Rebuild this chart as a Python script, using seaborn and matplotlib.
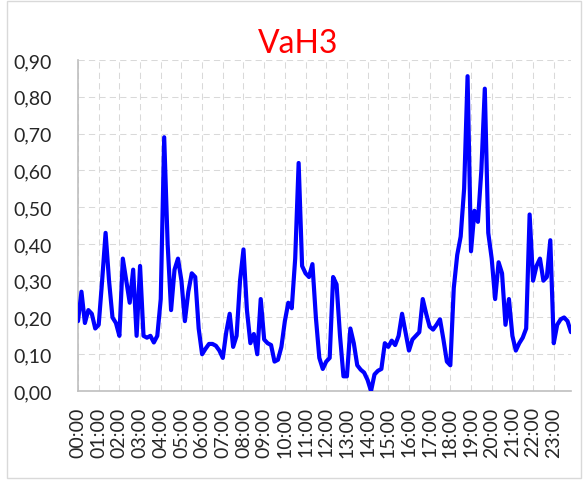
import numpy as np
import pandas as pd
import seaborn as sns
from matplotlib import pyplot as plt
from matplotlib.patches import Rectangle

# VaH3, 10-minute readings from 00:00 to 23:50
vah3 = [
    0.19, 0.27, 0.185, 0.22, 0.21, 0.17,          # 00:00
    0.18, 0.30, 0.43, 0.30, 0.20, 0.185,          # 01:00
    0.15, 0.36, 0.30, 0.24, 0.33, 0.15,           # 02:00
    0.34, 0.15, 0.145, 0.15, 0.132, 0.15,         # 03:00
    0.25, 0.69, 0.40, 0.22, 0.33, 0.36,           # 04:00
    0.30, 0.19, 0.27, 0.32, 0.31, 0.17,           # 05:00
    0.10, 0.115, 0.128, 0.128, 0.123, 0.11,       # 06:00
    0.09, 0.16, 0.21, 0.12, 0.15, 0.30,           # 07:00
    0.385, 0.22, 0.13, 0.155, 0.10, 0.25,         # 08:00
    0.14, 0.13, 0.125, 0.08, 0.085, 0.12,         # 09:00
    0.19, 0.24, 0.225, 0.36, 0.62, 0.34,          # 10:00
    0.32, 0.31, 0.345, 0.20, 0.09, 0.06,          # 11:00
    0.08, 0.09, 0.31, 0.29, 0.15, 0.04,           # 12:00
    0.04, 0.17, 0.13, 0.07, 0.058, 0.05,          # 13:00
    0.03, 0.0, 0.045, 0.055, 0.06, 0.13,          # 14:00
    0.12, 0.137, 0.125, 0.15, 0.21, 0.16,         # 15:00
    0.11, 0.14, 0.15, 0.16, 0.25, 0.21,           # 16:00
    0.175, 0.167, 0.18, 0.195, 0.14, 0.08,        # 17:00
    0.07, 0.28, 0.37, 0.42, 0.55, 0.856,          # 18:00
    0.38, 0.49, 0.46, 0.60, 0.822, 0.43,          # 19:00
    0.36, 0.25, 0.35, 0.32, 0.18, 0.25,           # 20:00
    0.15, 0.11, 0.13, 0.145, 0.17, 0.48,          # 21:00
    0.30, 0.34, 0.36, 0.30, 0.31, 0.41,           # 22:00
    0.13, 0.18, 0.195, 0.20, 0.19, 0.16,          # 23:00
]
hour_labels = [f'{h:02d}:00' for h in range(24)]
y_ticks = [0.0, 0.1, 0.2, 0.3, 0.4, 0.5, 0.6, 0.7, 0.8, 0.9]

df = pd.DataFrame({'hour': np.arange(len(vah3)) / 6, 'value': vah3})

sns.set_style('white')
plt.rcParams['font.family'] = ['Lato', 'DejaVu Sans']

fig = plt.figure(figsize=(5.83, 4.81), dpi=100)
ax = fig.add_axes([0.1338, 0.185, 0.9794 - 0.1338, 0.8732 - 0.185])

sns.lineplot(data=df, x='hour', y='value', color='#0000FF', linewidth=3,
             ax=ax, zorder=3)
ax.lines[0].set_solid_joinstyle('round')
ax.lines[0].set_solid_capstyle('round')

ax.set_xlim(0, df['hour'].max())
ax.set_ylim(0, 0.9)
ax.set_xticks(range(24))
ax.set_xticklabels(hour_labels, rotation=90, fontsize=14)
ax.set_yticks(y_ticks)
ax.set_yticklabels([f'{v:.2f}'.replace('.', ',') for v in y_ticks], fontsize=14)
ax.tick_params(axis='x', length=0, pad=11)
ax.tick_params(axis='y', length=0, pad=19)
ax.set_xlabel('')
ax.set_ylabel('')

ax.grid(True, color='#d9d9d9', linewidth=0.75, linestyle=(0, (6, 4)))
ax.set_axisbelow(True)
for side in ['top', 'right']:
    ax.spines[side].set_visible(False)
for side in ['left', 'bottom']:
    ax.spines[side].set_color('#bfbfbf')
    ax.spines[side].set_linewidth(1.2)

fig.text(0.511, 0.908, 'VaH3', color='red', fontsize=23,
         ha='center', va='center')

fig.patches.append(Rectangle((7 / 583, 2 / 481), 574 / 583, 477 / 481,
                             transform=fig.transFigure, fill=False,
                             edgecolor='#d9d9d9', linewidth=1))

fig.savefig('out.png', dpi=100)
